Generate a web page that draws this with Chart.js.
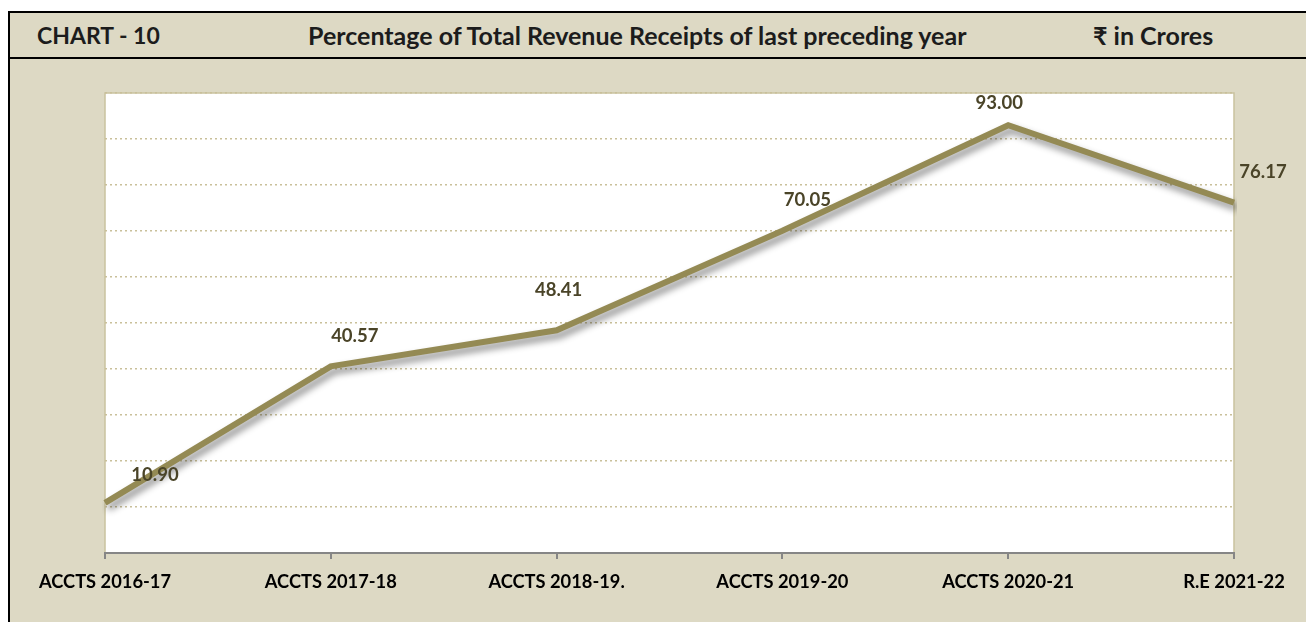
<!DOCTYPE html>
<html>
<head>
<meta charset="utf-8">
<script src="https://cdn.jsdelivr.net/npm/chart.js@4"></script>
<style>
  body { margin: 0; background: #ffffff; width: 1306px; height: 622px; overflow: hidden; position: relative; font-family: Lato, "Noto Sans", "DejaVu Sans", sans-serif; }
  #frame { position: absolute; left: 8px; top: 11px; width: 1320px; height: 640px; border-left: 2px solid #000; border-top: 2px solid #000; background: #ddd9c4; }
  #head { position: absolute; left: 0; top: 0; width: 100%; height: 44px; border-bottom: 2px solid #000; }
  #head span { position: absolute; top: 7px; font-weight: bold; font-size: 25px; color: #1c1c1c; white-space: nowrap; }
  #wrap { position: absolute; left: 0; top: 0; width: 1306px; height: 622px; }
</style>
</head>
<body>
<div id="frame">
  <div id="head">
    <span style="left:27px; font-size:23px; top:8px">CHART - 10</span>
    <span style="left:298px">Percentage of Total Revenue Receipts of last preceding year</span>
    <span style="left:1083px">₹ in Crores</span>
  </div>
</div>
<div id="wrap"><canvas id="chart" width="1306" height="622"></canvas></div>
<script>
const categories = ['ACCTS 2016-17', 'ACCTS 2017-18', 'ACCTS 2018-19.', 'ACCTS 2019-20', 'ACCTS 2020-21', 'R.E 2021-22'];
const percentValues = [10.90, 40.57, 48.41, 70.05, 93.00, 76.17];

// where each value label sits relative to its point (as in the original sheet)
const labelOffsets = [[50, -28], [24, -30], [2, -40], [25, -31], [-9, -22], [29, -31]];

const plotBackground = {
    id: 'plotBackground',
    beforeDraw(chart) {
        const { ctx, chartArea: a } = chart;
        ctx.save();
        ctx.fillStyle = '#ffffff';
        ctx.fillRect(a.left, a.top, a.right - a.left, a.bottom - a.top);
        ctx.strokeStyle = '#c9c29f';
        ctx.lineWidth = 1.5;
        ctx.beginPath();
        ctx.moveTo(a.left, a.bottom);
        ctx.lineTo(a.left, a.top);
        ctx.lineTo(a.right, a.top);
        ctx.lineTo(a.right, a.bottom);
        ctx.stroke();
        ctx.restore();
    }
};

const lineShadow = {
    id: 'lineShadow',
    beforeDatasetDraw(chart) {
        const ctx = chart.ctx;
        ctx.save();
        ctx.shadowColor = 'rgba(0,0,0,0.45)';
        ctx.shadowBlur = 7;
        ctx.shadowOffsetX = 3;
        ctx.shadowOffsetY = 5;
    },
    afterDatasetDraw(chart) {
        chart.ctx.restore();
    }
};

const valueLabels = {
    id: 'valueLabels',
    afterDatasetsDraw(chart) {
        const ctx = chart.ctx;
        const meta = chart.getDatasetMeta(0);
        ctx.save();
        ctx.font = 'bold 18.5px Lato, "Noto Sans", sans-serif';
        ctx.fillStyle = '#4a4428';
        ctx.textAlign = 'center';
        ctx.textBaseline = 'middle';
        meta.data.forEach((pt, i) => {
            const off = labelOffsets[i];
            ctx.fillText(percentValues[i].toFixed(2), pt.x + off[0], pt.y + off[1]);
        });
        ctx.restore();
    }
};

const ctx = document.getElementById('chart').getContext('2d');
new Chart(ctx, {
    type: 'line',
    data: {
        labels: categories,
        datasets: [{
            data: percentValues,
            borderColor: '#948a54',
            borderWidth: 6,
            pointRadius: 0,
            tension: 0,
            fill: false
        }]
    },
    options: {
        responsive: false,
        animation: false,
        layout: { padding: { left: 105, right: 72, top: 93, bottom: 0 } },
        plugins: { legend: { display: false }, tooltip: { enabled: false } },
        scales: {
            x: {
                offset: false,
                afterFit(s) { s.height = 69; },
                grid: { drawOnChartArea: false, color: '#868686', lineWidth: 2, tickLength: 6 },
                border: { color: '#868686', width: 2 },
                ticks: { color: '#000', padding: 12, maxRotation: 0, autoSkip: false, font: { family: 'Lato, "Noto Sans", sans-serif', size: 18.3, weight: 'bold' } }
            },
            y: {
                min: 0,
                max: 100,
                afterFit(s) { s.width = 0; },
                ticks: { display: false, stepSize: 10 },
                grid: { color: '#c9c09a', lineWidth: 1.5, drawTicks: false },
                border: { display: false, dash: [2, 3] }
            }
        }
    },
    plugins: [plotBackground, lineShadow, valueLabels]
});
</script>
</body>
</html>
